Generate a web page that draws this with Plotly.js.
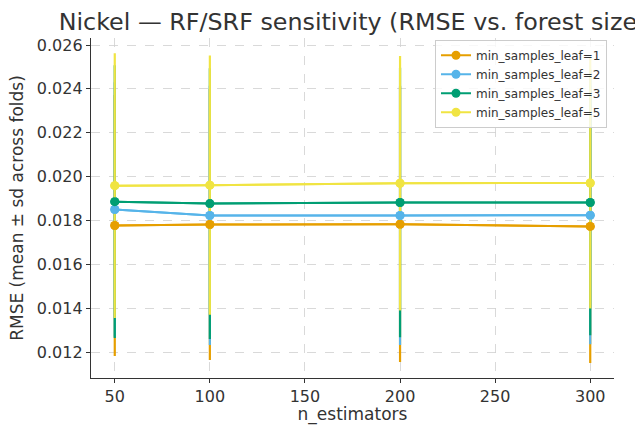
<!DOCTYPE html>
<html>
<head>
<meta charset="utf-8">
<script src="https://cdn.plot.ly/plotly-3.0.1.min.js"></script>
<style>html,body{margin:0;padding:0;background:#fff;}#chart{width:635px;height:425px;}</style>
</head>
<body>
<div id="chart"></div>
<script>
const nEstimators = [50, 100, 200, 300];
const seriesNames = ["min_samples_leaf=1", "min_samples_leaf=2", "min_samples_leaf=3", "min_samples_leaf=5"];
const leaf1Mean = [0.01777, 0.01782, 0.01783, 0.01773];
const leaf1Sd   = [0.00595, 0.00618, 0.00628, 0.00623];
const leaf2Mean = [0.01850, 0.01823, 0.01823, 0.01824];
const leaf2Sd   = [0.00580, 0.00591, 0.00591, 0.00588];
const leaf3Mean = [0.01886, 0.01877, 0.01882, 0.01882];
const leaf3Sd   = [0.00622, 0.00617, 0.00614, 0.00605];
const leaf5Mean = [0.01959, 0.01961, 0.01970, 0.01971];
const leaf5Sd   = [0.00603, 0.00591, 0.00580, 0.00572];
const colors = ["#E69F00", "#56B4E9", "#009E73", "#F0E442"];

const means = [leaf1Mean, leaf2Mean, leaf3Mean, leaf5Mean];
const sds = [leaf1Sd, leaf2Sd, leaf3Sd, leaf5Sd];

const traces = [];
means.forEach((m, i) => {
  traces.push({
    x: nEstimators, y: m, name: seriesNames[i], type: 'scatter', mode: 'lines+markers',
    line: {color: colors[i], width: 2},
    marker: {color: colors[i], size: 9},
    error_y: {type: 'data', array: sds[i], visible: true, color: colors[i], thickness: 2.2, width: 0}
  });
});
means.forEach((m, i) => {
  traces.push({
    x: nEstimators, y: m, name: seriesNames[i], type: 'scatter', mode: 'lines+markers',
    showlegend: false, hoverinfo: 'skip',
    line: {color: colors[i], width: 2},
    marker: {color: colors[i], size: 9}
  });
});

const layout = {
  width: 635, height: 425,
  margin: {l: 91, r: 21, t: 38, b: 47},
  paper_bgcolor: '#fff', plot_bgcolor: '#fff',
  font: {family: 'DejaVu Sans, sans-serif', color: '#333'},
  title: {text: 'Nickel — RF/SRF sensitivity (RMSE vs. forest size)', font: {size: 23.8, color: '#333'},
          xref: 'paper', x: 0.5, xanchor: 'center', yref: 'container', y: 0.95, yanchor: 'middle'},
  xaxis: {
    range: [37.5, 312.5], tickvals: [50, 100, 150, 200, 250, 300],
    showgrid: true, gridcolor: '#cfcfcf', griddash: 'dash', gridwidth: 0.8,
    zeroline: false, showline: true, linecolor: '#333', linewidth: 1.2,
    ticks: 'outside', ticklen: 4, tickcolor: '#333', tickfont: {size: 16, color: '#333'},
    title: {text: 'n_estimators', font: {size: 17, color: '#333'}, standoff: 6}
  },
  yaxis: {
    range: [0.01082, 0.02632], tickvals: [0.012, 0.014, 0.016, 0.018, 0.020, 0.022, 0.024, 0.026],
    tickformat: '.3f',
    showgrid: true, gridcolor: '#cfcfcf', griddash: 'dash', gridwidth: 0.8,
    zeroline: false, showline: true, linecolor: '#333', linewidth: 1.2,
    ticks: 'outside', ticklen: 4, tickcolor: '#333', tickfont: {size: 16, color: '#333'},
    title: {text: 'RMSE (mean ± sd across folds)', font: {size: 17, color: '#333'}, standoff: 8}
  },
  legend: {
    x: 0.9866, xanchor: 'right', y: 0.995, yanchor: 'top',
    bgcolor: 'rgba(255,255,255,0.8)', bordercolor: '#cccccc', borderwidth: 1,
    font: {size: 12, color: '#333'}, tracegroupgap: 0, itemwidth: 30
  },
  showlegend: true
};

Plotly.newPlot('chart', traces, layout, {displayModeBar: false, staticPlot: true});
</script>
</body>
</html>
